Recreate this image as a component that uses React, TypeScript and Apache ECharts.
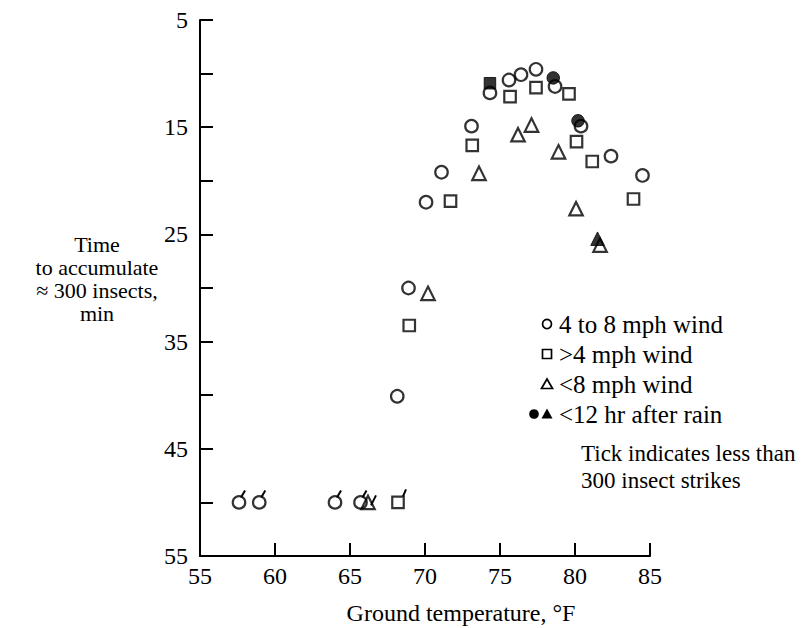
import React, { useEffect, useRef } from "react";
import * as echarts from "echarts";

// Ground temperature (°F) vs time to accumulate ~300 insects (min)
const xTickValues = [55, 60, 65, 70, 75, 80, 85];
const yMajorLabels = [5, 15, 25, 35, 45, 55];

const openCircles: number[][] = [
  [57.6, 50], [58.95, 50], [64.0, 50], [65.7, 50],
  [68.15, 40.1], [68.9, 30.0], [70.07, 22.0], [71.1, 19.2], [73.1, 14.9],
  [74.33, 11.8], [75.6, 10.6], [76.4, 10.1], [77.4, 9.6], [78.67, 11.2],
  [80.4, 14.9], [82.4, 17.7], [84.5, 19.5],
];
const openSquares: number[][] = [
  [68.2, 50], [68.95, 33.5], [71.7, 21.9], [73.15, 16.7], [75.67, 12.15],
  [77.4, 11.3], [79.6, 11.9], [80.1, 16.35], [81.15, 18.2], [83.9, 21.7],
];
const openTriangles: number[][] = [
  [66.2, 50], [70.2, 30.5], [73.6, 19.3], [76.2, 15.7], [77.1, 14.8],
  [78.9, 17.3], [80.07, 22.6], [81.67, 26.0],
];
const rainSquares: number[][] = [[74.33, 10.9]];
const rainCircles: number[][] = [[78.55, 10.4], [80.2, 14.4]];
const rainTriangles: number[][] = [[81.5, 25.4]];

// points carrying a "tick" (fewer than 300 insect strikes)
const tickedCircles: number[][] = [[57.6, 50], [58.95, 50], [64.0, 50], [65.7, 50]];
const tickedSquares: number[][] = [[68.2, 50]];
const tickedTriangles: number[][] = [[66.2, 50]];

const legendItems = ["4 to 8 mph wind", ">4 mph wind", "<8 mph wind", "<12 hr after rain"];
const noteLines = ["Tick indicates less than", "300 insect strikes"];
const yTitleLines = ["Time", "to accumulate", "\u2248 300 insects,", "min"];
const xTitle = "Ground temperature, \u00b0F";

const FONT = '"Liberation Serif", "Times New Roman", serif';

export default function App() {
  const ref = useRef<HTMLDivElement>(null);
  useEffect(() => {
    document.body.style.margin = "0";
    const chart = echarts.init(ref.current!, null, { renderer: "svg" });

    const openStyle = { color: "rgba(0,0,0,0)", borderColor: "#000", borderWidth: 2.2 };
    const filledStyle = { color: "#000", borderColor: "#000", borderWidth: 1 };

    const tickSeries = (data: number[][], dx1: number, dy1: number, dx2: number, dy2: number) => ({
      type: "custom",
      data,
      z: 5,
      silent: true,
      renderItem: (_p: any, api: any) => {
        const p = api.coord([api.value(0), api.value(1)]);
        return {
          type: "line",
          shape: { x1: p[0] + dx1, y1: p[1] + dy1, x2: p[0] + dx2, y2: p[1] + dy2 },
          style: { stroke: "#000", lineWidth: 2 },
        };
      },
    });

    const legendY = [324, 354, 384, 414];
    const lx = 547;
    const graphics: any[] = [
      { type: "circle", shape: { cx: lx, cy: legendY[0], r: 4.5 }, style: { fill: "none", stroke: "#000", lineWidth: 1.7 } },
      { type: "rect", shape: { x: lx - 4.5, y: legendY[1] - 4.5, width: 9, height: 9 }, style: { fill: "none", stroke: "#000", lineWidth: 1.7 } },
      { type: "polygon", shape: { points: [[lx, legendY[2] - 5], [lx - 5.5, legendY[2] + 4.5], [lx + 5.5, legendY[2] + 4.5]] }, style: { fill: "none", stroke: "#000", lineWidth: 1.7 } },
      { type: "circle", shape: { cx: lx - 13, cy: legendY[3], r: 4.8 }, style: { fill: "#000" } },
      { type: "polygon", shape: { points: [[lx, legendY[3] - 5.5], [lx - 5.5, legendY[3] + 4.5], [lx + 5.5, legendY[3] + 4.5]] }, style: { fill: "#000" } },
    ];
    legendItems.forEach((t, i) => {
      graphics.push({
        type: "text",
        style: { text: t, x: 559, y: legendY[i], fill: "#000", fontSize: 25, fontFamily: FONT, verticalAlign: "middle", align: "left" },
      });
    });
    noteLines.forEach((t, i) => {
      graphics.push({
        type: "text",
        style: { text: t, x: 581, y: 453 + i * 27, fill: "#000", fontSize: 23, fontFamily: FONT, verticalAlign: "middle", align: "left" },
      });
    });
    yTitleLines.forEach((t, i) => {
      graphics.push({
        type: "text",
        style: {
          text: t, x: 97, y: 244 + i * 23, fill: "#000", fontSize: 22,
          fontFamily: FONT, verticalAlign: "middle", align: "center",
        },
      });
    });
    graphics.push({
      type: "text",
      style: { text: xTitle, x: 461, y: 613, fill: "#000", fontSize: 24, fontFamily: FONT, verticalAlign: "middle", align: "center" },
    });

    chart.setOption({
      animation: false,
      backgroundColor: "#fff",
      grid: { left: 200, top: 20, right: 152, bottom: 72, containLabel: false, outerBoundsMode: "none" },
      xAxis: {
        type: "value",
        min: xTickValues[0],
        max: xTickValues[xTickValues.length - 1],
        interval: 5,
        axisLine: { show: true, lineStyle: { color: "#000", width: 2 } },
        axisTick: { show: true, inside: true, length: 13, lineStyle: { color: "#000", width: 2 } },
        axisLabel: { color: "#000", fontSize: 24, fontFamily: FONT, margin: 8 },
        splitLine: { show: false },
      },
      yAxis: {
        type: "value",
        inverse: true,
        min: yMajorLabels[0],
        max: yMajorLabels[yMajorLabels.length - 1],
        interval: 5,
        axisLine: { show: true, lineStyle: { color: "#000", width: 2 } },
        axisTick: { show: true, inside: true, length: 13, lineStyle: { color: "#000", width: 2 } },
        axisLabel: {
          color: "#000", fontSize: 24, fontFamily: FONT, margin: 12,
          formatter: (v: number) => (yMajorLabels.indexOf(v) >= 0 ? String(v) : ""),
        },
        splitLine: { show: false },
      },
      graphic: graphics,
      series: [
        { type: "scatter", name: "4 to 8 mph wind", data: openCircles, symbol: "circle", symbolSize: 12.5, itemStyle: openStyle, z: 2 },
        { type: "scatter", name: ">4 mph wind", data: openSquares, symbol: "rect", symbolSize: 11.5, itemStyle: openStyle, z: 2 },
        { type: "scatter", name: "<8 mph wind", data: openTriangles, symbol: "triangle", symbolSize: 13.5, itemStyle: openStyle, z: 2 },
        { type: "scatter", name: "<12 hr after rain (square)", data: rainSquares, symbol: "rect", symbolSize: 11.5, itemStyle: filledStyle, z: 4 },
        { type: "scatter", name: "<12 hr after rain (circle)", data: rainCircles, symbol: "circle", symbolSize: 12.5, itemStyle: filledStyle, z: 4 },
        { type: "scatter", name: "<12 hr after rain (triangle)", data: rainTriangles, symbol: "triangle", symbolSize: 13.5, itemStyle: filledStyle, z: 4 },
        tickSeries(tickedCircles, 2, -5, 6, -12),
        tickSeries(tickedSquares, 5, -6, 8, -13),
        tickSeries(tickedTriangles, 3, 3, 8, -7),
      ],
    });
    return () => chart.dispose();
  }, []);
  return <div ref={ref} style={{ width: 802, height: 628 }} />;
}
